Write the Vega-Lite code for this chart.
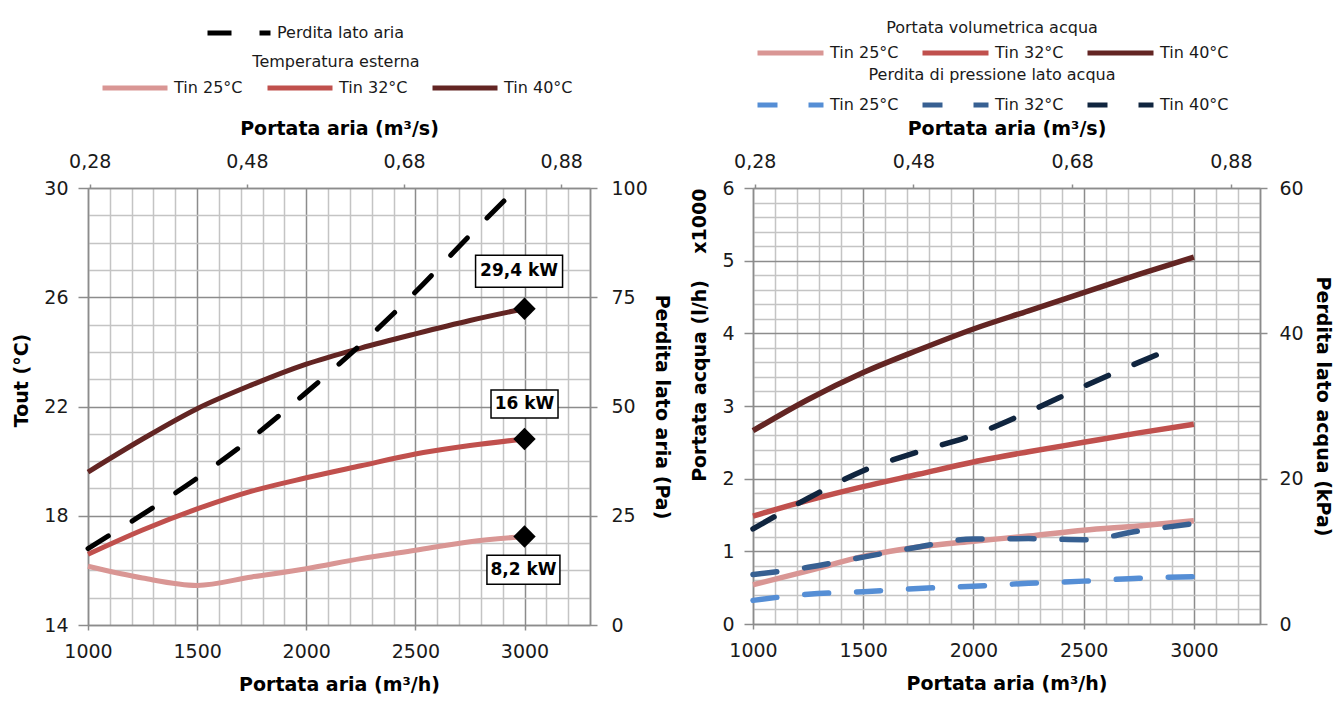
{
  "$schema": "https://vega.github.io/schema/vega-lite/v6.json",
  "background": "white",
  "padding": {"left": 12, "top": 20, "right": 2, "bottom": 0},
  "bounds": "flush",
  "spacing": 163,
  "resolve": {"scale": {"color": "independent", "strokeDash": "independent", "shape": "independent"}},
  "config": {
    "font": "DejaVu Sans",
    "view": {"stroke": null},
    "axis": {
      "labelFont": "DejaVu Sans", "labelFontSize": 19, "labelColor": "#1a1a1a",
      "titleFont": "DejaVu Sans", "titleFontSize": 19, "titleFontWeight": "bold", "titleColor": "black",
      "domainColor": "#8c8c8c", "domainWidth": 1.5, "tickColor": "#8c8c8c", "tickWidth": 1.5,
      "gridWidth": 1.5, "labelOverlap": false, "labelFlush": false
    },
    "legend": {
      "labelFont": "DejaVu Sans", "labelFontSize": 16, "labelColor": "#1a1a1a",
      "titleFont": "DejaVu Sans", "titleFontSize": 16, "titleFontWeight": "normal", "titleColor": "#1a1a1a",
      "padding": 0, "symbolType": "stroke", "symbolStrokeWidth": 5, "clipHeight": 20,
      "labelOffset": 4, "columnPadding": 22, "titleAnchor": "middle", "titleLimit": 500, "labelLimit": 300
    }
  },
  "datasets": {
    "tout": [
      {"m3h": 1000, "tin": "Tin 25°C", "tout": 16.15}, {"m3h": 1250, "tin": "Tin 25°C", "tout": 15.72}, {"m3h": 1500, "tin": "Tin 25°C", "tout": 15.45},
      {"m3h": 1750, "tin": "Tin 25°C", "tout": 15.76}, {"m3h": 2000, "tin": "Tin 25°C", "tout": 16.06}, {"m3h": 2250, "tin": "Tin 25°C", "tout": 16.43},
      {"m3h": 2500, "tin": "Tin 25°C", "tout": 16.74}, {"m3h": 2750, "tin": "Tin 25°C", "tout": 17.05}, {"m3h": 3000, "tin": "Tin 25°C", "tout": 17.24},
      {"m3h": 1000, "tin": "Tin 32°C", "tout": 16.59}, {"m3h": 1250, "tin": "Tin 32°C", "tout": 17.48}, {"m3h": 1500, "tin": "Tin 32°C", "tout": 18.25},
      {"m3h": 1750, "tin": "Tin 32°C", "tout": 18.9}, {"m3h": 2000, "tin": "Tin 32°C", "tout": 19.39}, {"m3h": 2250, "tin": "Tin 32°C", "tout": 19.83},
      {"m3h": 2500, "tin": "Tin 32°C", "tout": 20.26}, {"m3h": 2750, "tin": "Tin 32°C", "tout": 20.57}, {"m3h": 3000, "tin": "Tin 32°C", "tout": 20.81},
      {"m3h": 1000, "tin": "Tin 40°C", "tout": 19.6}, {"m3h": 1250, "tin": "Tin 40°C", "tout": 20.81}, {"m3h": 1500, "tin": "Tin 40°C", "tout": 21.92},
      {"m3h": 1750, "tin": "Tin 40°C", "tout": 22.79}, {"m3h": 2000, "tin": "Tin 40°C", "tout": 23.55}, {"m3h": 2250, "tin": "Tin 40°C", "tout": 24.14},
      {"m3h": 2500, "tin": "Tin 40°C", "tout": 24.66}, {"m3h": 2750, "tin": "Tin 40°C", "tout": 25.15}, {"m3h": 3000, "tin": "Tin 40°C", "tout": 25.58}
    ],
    "pa": [
      {"m3h": 1000, "serie": "Perdita lato aria", "pa": 17.5}, {"m3h": 1250, "serie": "Perdita lato aria", "pa": 25.3},
      {"m3h": 1500, "serie": "Perdita lato aria", "pa": 33.6}, {"m3h": 1750, "serie": "Perdita lato aria", "pa": 42.8},
      {"m3h": 2000, "serie": "Perdita lato aria", "pa": 53.2}, {"m3h": 2250, "serie": "Perdita lato aria", "pa": 64.2},
      {"m3h": 2500, "serie": "Perdita lato aria", "pa": 76.2}, {"m3h": 2750, "serie": "Perdita lato aria", "pa": 89.2},
      {"m3h": 2965, "serie": "Perdita lato aria", "pa": 100}
    ],
    "kw": [
      {"m3h": 2975, "tout": 26.95, "label": "29,4 kW"},
      {"m3h": 3000, "tout": 22.09, "label": "16 kW"},
      {"m3h": 2995, "tout": 16.02, "label": "8,2 kW"}
    ],
    "lh": [
      {"m3h": 1000, "tin": "Tin 25°C", "lh": 0.54}, {"m3h": 1250, "tin": "Tin 25°C", "lh": 0.73}, {"m3h": 1500, "tin": "Tin 25°C", "lh": 0.93},
      {"m3h": 1750, "tin": "Tin 25°C", "lh": 1.06}, {"m3h": 2000, "tin": "Tin 25°C", "lh": 1.14}, {"m3h": 2250, "tin": "Tin 25°C", "lh": 1.21},
      {"m3h": 2500, "tin": "Tin 25°C", "lh": 1.29}, {"m3h": 2750, "tin": "Tin 25°C", "lh": 1.35}, {"m3h": 3000, "tin": "Tin 25°C", "lh": 1.42},
      {"m3h": 1000, "tin": "Tin 32°C", "lh": 1.485}, {"m3h": 1250, "tin": "Tin 32°C", "lh": 1.7}, {"m3h": 1500, "tin": "Tin 32°C", "lh": 1.89},
      {"m3h": 1750, "tin": "Tin 32°C", "lh": 2.06}, {"m3h": 2000, "tin": "Tin 32°C", "lh": 2.23}, {"m3h": 2250, "tin": "Tin 32°C", "lh": 2.37},
      {"m3h": 2500, "tin": "Tin 32°C", "lh": 2.5}, {"m3h": 2750, "tin": "Tin 32°C", "lh": 2.63}, {"m3h": 3000, "tin": "Tin 32°C", "lh": 2.75},
      {"m3h": 1000, "tin": "Tin 40°C", "lh": 2.66}, {"m3h": 1250, "tin": "Tin 40°C", "lh": 3.09}, {"m3h": 1500, "tin": "Tin 40°C", "lh": 3.46},
      {"m3h": 1750, "tin": "Tin 40°C", "lh": 3.77}, {"m3h": 2000, "tin": "Tin 40°C", "lh": 4.06}, {"m3h": 2250, "tin": "Tin 40°C", "lh": 4.31},
      {"m3h": 2500, "tin": "Tin 40°C", "lh": 4.56}, {"m3h": 2750, "tin": "Tin 40°C", "lh": 4.81}, {"m3h": 3000, "tin": "Tin 40°C", "lh": 5.05}
    ],
    "kpa": [
      {"m3h": 1000, "tin": "Tin 25°C", "kpa": 3.25}, {"m3h": 1250, "tin": "Tin 25°C", "kpa": 4.1}, {"m3h": 1500, "tin": "Tin 25°C", "kpa": 4.45},
      {"m3h": 1750, "tin": "Tin 25°C", "kpa": 4.9}, {"m3h": 2000, "tin": "Tin 25°C", "kpa": 5.2}, {"m3h": 2250, "tin": "Tin 25°C", "kpa": 5.6},
      {"m3h": 2500, "tin": "Tin 25°C", "kpa": 5.9}, {"m3h": 2750, "tin": "Tin 25°C", "kpa": 6.3}, {"m3h": 3000, "tin": "Tin 25°C", "kpa": 6.5},
      {"m3h": 1000, "tin": "Tin 32°C", "kpa": 6.8}, {"m3h": 1250, "tin": "Tin 32°C", "kpa": 7.8}, {"m3h": 1500, "tin": "Tin 32°C", "kpa": 9.2},
      {"m3h": 1750, "tin": "Tin 32°C", "kpa": 10.6}, {"m3h": 2000, "tin": "Tin 32°C", "kpa": 11.7}, {"m3h": 2250, "tin": "Tin 32°C", "kpa": 11.75},
      {"m3h": 2500, "tin": "Tin 32°C", "kpa": 11.6}, {"m3h": 2750, "tin": "Tin 32°C", "kpa": 12.8}, {"m3h": 3000, "tin": "Tin 32°C", "kpa": 13.8},
      {"m3h": 1000, "tin": "Tin 40°C", "kpa": 13.1}, {"m3h": 1250, "tin": "Tin 40°C", "kpa": 17.3}, {"m3h": 1500, "tin": "Tin 40°C", "kpa": 21.1},
      {"m3h": 1750, "tin": "Tin 40°C", "kpa": 23.7}, {"m3h": 2000, "tin": "Tin 40°C", "kpa": 26.0}, {"m3h": 2250, "tin": "Tin 40°C", "kpa": 29.2},
      {"m3h": 2500, "tin": "Tin 40°C", "kpa": 32.7}, {"m3h": 2750, "tin": "Tin 40°C", "kpa": 36.0}, {"m3h": 2900, "tin": "Tin 40°C", "kpa": 37.9}
    ]
  },
  "hconcat": [
    {
      "width": 502,
      "height": 437,
      "resolve": {"scale": {"y": "independent"}, "axis": {"x": "independent"}},
      "layer": [
        {
          "encoding": {
            "x": {
              "field": "m3h", "type": "quantitative",
              "scale": {"domain": [1000, 3300], "nice": false, "zero": false},
              "axis": {
                "orient": "bottom",
                "values": [1000, 1100, 1200, 1300, 1400, 1500, 1600, 1700, 1800, 1900, 2000, 2100, 2200, 2300, 2400, 2500, 2600, 2700, 2800, 2900, 3000, 3100, 3200, 3300],
                "labelExpr": "datum.value % 500 === 0 ? format(datum.value, 'd') : ''",
                "grid": true,
                "gridColor": {"condition": {"test": "datum.value % 500 === 0 || datum.value === 3300", "value": "#8c8c8c"}, "value": "#c4c4c4"},
                "tickOpacity": {"condition": {"test": "datum.value % 500 === 0", "value": 1}, "value": 0},
                "tickSize": 5, "labelPadding": 12,
                "title": "Portata aria (m³/h)", "titlePadding": 14
              }
            },
            "y": {
              "field": "tout", "type": "quantitative",
              "scale": {"domain": [14, 30], "nice": false, "zero": false},
              "axis": {
                "orient": "left",
                "values": [14, 15, 16, 17, 18, 19, 20, 21, 22, 23, 24, 25, 26, 27, 28, 29, 30],
                "labelExpr": "(datum.value - 14) % 4 === 0 ? format(datum.value, 'd') : ''",
                "grid": true,
                "gridColor": {"condition": {"test": "(datum.value - 14) % 4 === 0", "value": "#8c8c8c"}, "value": "#c4c4c4"},
                "tickOpacity": {"condition": {"test": "(datum.value - 14) % 4 === 0", "value": 1}, "value": 0},
                "tickSize": 10, "labelPadding": 10,
                "title": "Tout (°C)", "titlePadding": 12, "titleY": 192
              }
            }
          },
          "layer": [
            {
              "data": {"name": "tout"},
              "mark": {"type": "line", "interpolate": "monotone", "strokeWidth": 5},
              "encoding": {
                "color": {
                  "field": "tin", "type": "nominal",
                  "scale": {"domain": ["Tin 25°C", "Tin 32°C", "Tin 40°C"], "range": ["#d99694", "#c0504d", "#632523"]},
                  "legend": {
                    "title": "Temperatura esterna", "orient": "none", "legendX": 12, "legendY": -134,
                    "direction": "horizontal", "columns": 3, "symbolSize": 4225, "titlePadding": 8, "columnPadding": 22
                  }
                }
              }
            },
            {
              "data": {"name": "tout"},
              "transform": [{"filter": "datum.m3h === 3000"}],
              "mark": {"type": "point", "shape": "diamond", "filled": true, "color": "black", "size": 500, "opacity": 1},
              "encoding": {}
            },
            {
              "data": {"name": "kw"},
              "mark": {"type": "point", "filled": true, "fill": "white", "stroke": "black", "strokeWidth": 1.5, "size": 10000, "opacity": 1, "fillOpacity": 1},
              "encoding": {
                "shape": {
                  "field": "label", "type": "nominal",
                  "scale": {"domain": ["29,4 kW", "16 kW", "8,2 kW"], "range": ["M-0.87,-0.32H0.87V0.32H-0.87Z", "M-0.67,-0.28H0.67V0.28H-0.67Z", "M-0.73,-0.29H0.73V0.29H-0.73Z"]},
                  "legend": null
                }
              }
            },
            {
              "data": {"name": "kw"},
              "mark": {"type": "text", "font": "DejaVu Sans", "fontSize": 17, "fontWeight": "bold", "color": "black", "baseline": "middle", "align": "center"},
              "encoding": {
                "text": {"field": "label", "type": "nominal"}
              }
            }
          ]
        },
        {
          "layer": [
            {
              "data": {"name": "pa"},
              "mark": {"type": "line", "interpolate": "monotone", "strokeWidth": 5, "color": "black", "strokeCap": "round"},
              "encoding": {
                "x": {
                  "field": "m3h", "type": "quantitative",
                  "scale": {"domain": [1000, 3300], "nice": false, "zero": false},
                  "axis": {
                    "orient": "top", "values": [1008, 1728, 2448, 3168],
                    "labelExpr": "replace(format(datum.value / 3600, '.2f'), '.', ',')",
                    "grid": false, "tickSize": 4, "labelPadding": 13,
                    "title": "Portata aria (m³/s)", "titlePadding": 14
                  }
                },
                "y": {
                  "field": "pa", "type": "quantitative",
                  "scale": {"domain": [0, 100], "nice": false, "zero": false},
                  "axis": {
                    "orient": "right", "values": [0, 25, 50, 75, 100], "grid": false,
                    "tickSize": 7, "labelPadding": 14, "title": "Perdita lato aria (Pa)", "titlePadding": 4
                  }
                },
                "strokeDash": {
                  "field": "serie", "type": "nominal",
                  "scale": {"domain": ["Perdita lato aria"], "range": [[24, 28]]},
                  "legend": {
                    "title": null, "orient": "none", "legendX": 117, "legendY": -165,
                    "direction": "horizontal", "symbolSize": 3969, "symbolStrokeColor": "black", "symbolDash": [30, 23]
                  }
                }
              }
            }
          ]
        }
      ]
    },
    {
      "width": 507,
      "height": 436,
      "resolve": {"scale": {"y": "independent", "color": "independent"}, "axis": {"x": "independent"}},
      "layer": [
        {
          "layer": [
            {
              "data": {"name": "lh"},
              "mark": {"type": "line", "interpolate": "monotone", "strokeWidth": 5.5},
              "encoding": {
                "x": {
                  "field": "m3h", "type": "quantitative",
                  "scale": {"domain": [1000, 3300], "nice": false, "zero": false},
                  "axis": {
                    "orient": "bottom",
                    "values": [1000, 1100, 1200, 1300, 1400, 1500, 1600, 1700, 1800, 1900, 2000, 2100, 2200, 2300, 2400, 2500, 2600, 2700, 2800, 2900, 3000, 3100, 3200, 3300],
                    "labelExpr": "datum.value % 500 === 0 ? format(datum.value, 'd') : ''",
                    "grid": true,
                    "gridColor": {"condition": {"test": "datum.value % 500 === 0 || datum.value === 3300", "value": "#8c8c8c"}, "value": "#c4c4c4"},
                    "tickOpacity": {"condition": {"test": "datum.value % 500 === 0", "value": 1}, "value": 0},
                    "tickSize": 5, "labelPadding": 12,
                    "title": "Portata aria (m³/h)", "titlePadding": 14
                  }
                },
                "y": {
                  "field": "lh", "type": "quantitative",
                  "scale": {"domain": [0, 6], "nice": false, "zero": false},
                  "axis": {
                    "orient": "left",
                    "values": [0, 0.2, 0.4, 0.6, 0.8, 1, 1.2, 1.4, 1.6, 1.8, 2, 2.2, 2.4, 2.6, 2.8, 3, 3.2, 3.4, 3.6, 3.8, 4, 4.2, 4.4, 4.6, 4.8, 5, 5.2, 5.4, 5.6, 5.8, 6],
                    "labelExpr": "abs(datum.value - round(datum.value)) < 0.001 ? format(datum.value, 'd') : ''",
                    "grid": true,
                    "gridColor": {"condition": {"test": "abs(datum.value - round(datum.value)) < 0.001", "value": "#8c8c8c"}, "value": "#c4c4c4"},
                    "tickOpacity": {"condition": {"test": "abs(datum.value - round(datum.value)) < 0.001", "value": 1}, "value": 0},
                    "tickSize": 9, "labelPadding": 10,
                    "title": "Portata acqua (l/h)\u00a0\u00a0\u00a0\u00a0x1000", "titleAnchor": "end", "titlePadding": 12
                  }
                },
                "color": {
                  "field": "tin", "type": "nominal",
                  "scale": {"domain": ["Tin 25°C", "Tin 32°C", "Tin 40°C"], "range": ["#d99694", "#c0504d", "#632523"]},
                  "legend": {
                    "title": "Portata volumetrica acqua", "orient": "none", "legendX": 2, "legendY": -168,
                    "direction": "horizontal", "columns": 3, "symbolSize": 4356, "titlePadding": 7, "columnPadding": 21
                  }
                }
              }
            }
          ]
        },
        {
          "layer": [
            {
              "data": {"name": "kpa"},
              "mark": {"type": "line", "interpolate": "monotone", "strokeWidth": 5.5, "strokeCap": "round", "strokeDash": [24, 28]},
              "encoding": {
                "x": {
                  "field": "m3h", "type": "quantitative",
                  "scale": {"domain": [1000, 3300], "nice": false, "zero": false},
                  "axis": {
                    "orient": "top", "values": [1008, 1728, 2448, 3168],
                    "labelExpr": "replace(format(datum.value / 3600, '.2f'), '.', ',')",
                    "grid": false, "tickSize": 4, "labelPadding": 13,
                    "title": "Portata aria (m³/s)", "titlePadding": 14
                  }
                },
                "y": {
                  "field": "kpa", "type": "quantitative",
                  "scale": {"domain": [0, 60], "nice": false, "zero": false},
                  "axis": {
                    "orient": "right", "values": [0, 20, 40, 60], "grid": false,
                    "tickSize": 7, "labelPadding": 12, "title": "Perdita lato acqua (kPa)", "titlePadding": 9
                  }
                },
                "color": {
                  "field": "tin", "type": "nominal",
                  "scale": {"domain": ["Tin 25°C", "Tin 32°C", "Tin 40°C"], "range": ["#558ed5", "#376092", "#10253f"]},
                  "legend": {
                    "title": "Perdita di pressione lato acqua", "orient": "none", "legendX": 2, "legendY": -121,
                    "direction": "horizontal", "columns": 3, "symbolSize": 4356, "titlePadding": 12, "columnPadding": 21,
                    "symbolDash": [20, 31]
                  }
                }
              }
            }
          ]
        }
      ]
    }
  ]
}
